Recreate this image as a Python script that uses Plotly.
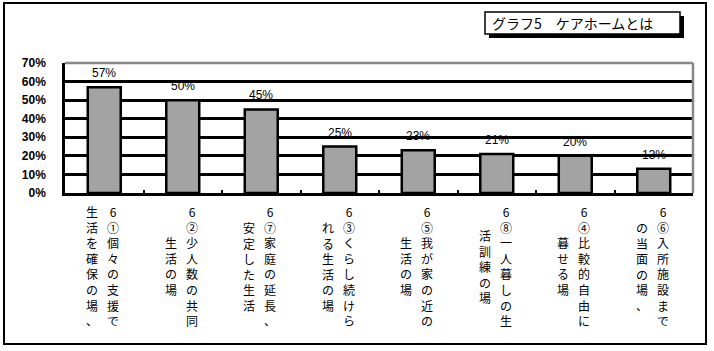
import plotly.graph_objects as go

# ---- data ----
col_right = ["6①個々の支援で", "6②少人数の共同", "6⑦家庭の延長、", "6③くらし続けら",
             "6⑤我が家の近の", "6⑧一人暮しの生", "6④比較的自由に", "6⑥入所施設まで"]
col_left = ["生活を確保の場、", "生活の場", "安定した生活", "れる生活の場",
            "生活の場", "活訓練の場", "暮せる場", "の当面の場、"]
categories = [r + l for r, l in zip(col_right, col_left)]
values = [57, 50, 45, 25, 23, 21, 20, 13]
y_ticks = [0, 10, 20, 30, 40, 50, 60, 70]
title_text = "グラフ5　ケアホームとは"

# ---- layout helpers (pixel -> paper) ----
L, R, T, B = 65, 21, 63, 158
W, H = 714, 351
PW, PH = W - L - R, H - T - B


def px_x(p):
    return (p - L) / PW


def px_y(p):
    return (H - B - p) / PH


fig = go.Figure()
fig.add_trace(go.Bar(
    x=categories, y=values,
    marker=dict(color="#a3a3a3", line=dict(color="black", width=2.5)),
    width=0.42, hoverinfo="skip",
))

annotations = []
for c, v in zip(categories, values):
    annotations.append(dict(x=c, y=v, xref="x", yref="y", text=f"{v}%", showarrow=False,
                            yanchor="bottom", yshift=5,
                            font=dict(family="Liberation Sans, Arial", size=12, color="black")))

jp = "Noto Sans CJK JP"
for c, r, l in zip(categories, col_right, col_left):
    for txt, sh in ((r, 9), (l, -12)):
        annotations.append(dict(x=c, y=px_y(266), xref="x", yref="paper",
                                text="<br>".join(list(txt)), showarrow=False,
                                xanchor="center", yanchor="middle", xshift=sh,
                                font=dict(family=jp, size=12, color="black")))

annotations.append(dict(x=px_x(490), y=px_y(23), xref="paper", yref="paper", text=title_text,
                        showarrow=False, xanchor="left", yanchor="middle",
                        font=dict(family=jp, size=14, color="black")))

shapes = [
    # outer frame
    dict(type="rect", xref="paper", yref="paper", x0=px_x(4), x1=px_x(706), y0=px_y(3), y1=px_y(344),
         line=dict(color="black", width=2), fillcolor="rgba(0,0,0,0)", layer="below"),
    # title shadow and box
    dict(type="rect", xref="paper", yref="paper", x0=px_x(489), x1=px_x(684), y0=px_y(16), y1=px_y(38),
         line=dict(color="black", width=0), fillcolor="black", layer="above"),
    dict(type="rect", xref="paper", yref="paper", x0=px_x(485), x1=px_x(680), y0=px_y(12), y1=px_y(34),
         line=dict(color="black", width=1.5), fillcolor="white", layer="above"),
    # gray top and right border of plot area
    dict(type="line", xref="x domain", yref="y domain", x0=0, x1=1, y0=1, y1=1,
         line=dict(color="#888888", width=2.5), layer="above"),
    dict(type="line", xref="x domain", yref="y domain", x0=1, x1=1, y0=0, y1=1,
         line=dict(color="#888888", width=2.5), layer="above"),
]

fig.update_layout(
    width=W, height=H, margin=dict(l=L, r=R, t=T, b=B),
    paper_bgcolor="white", plot_bgcolor="white", showlegend=False,
    annotations=annotations, shapes=shapes,
    xaxis=dict(type="category", showticklabels=False, showgrid=False,
               showline=True, linecolor="black", linewidth=3,
               ticks="inside", ticklen=3, tickwidth=2, tickcolor="black", tickson="boundaries",
               fixedrange=True),
    yaxis=dict(range=[0, 70], tickvals=y_ticks, ticktext=[f"{t}%" for t in y_ticks],
               showgrid=True, gridcolor="black", gridwidth=2.5, zeroline=False,
               showline=True, linecolor="black", linewidth=2.5, ticks="",
               ticklabelstandoff=14,
               tickfont=dict(family="Liberation Sans, Arial", size=12, color="black", weight="bold"),
               fixedrange=True),
)

fig.write_html("out.html", config={"displayModeBar": False})
